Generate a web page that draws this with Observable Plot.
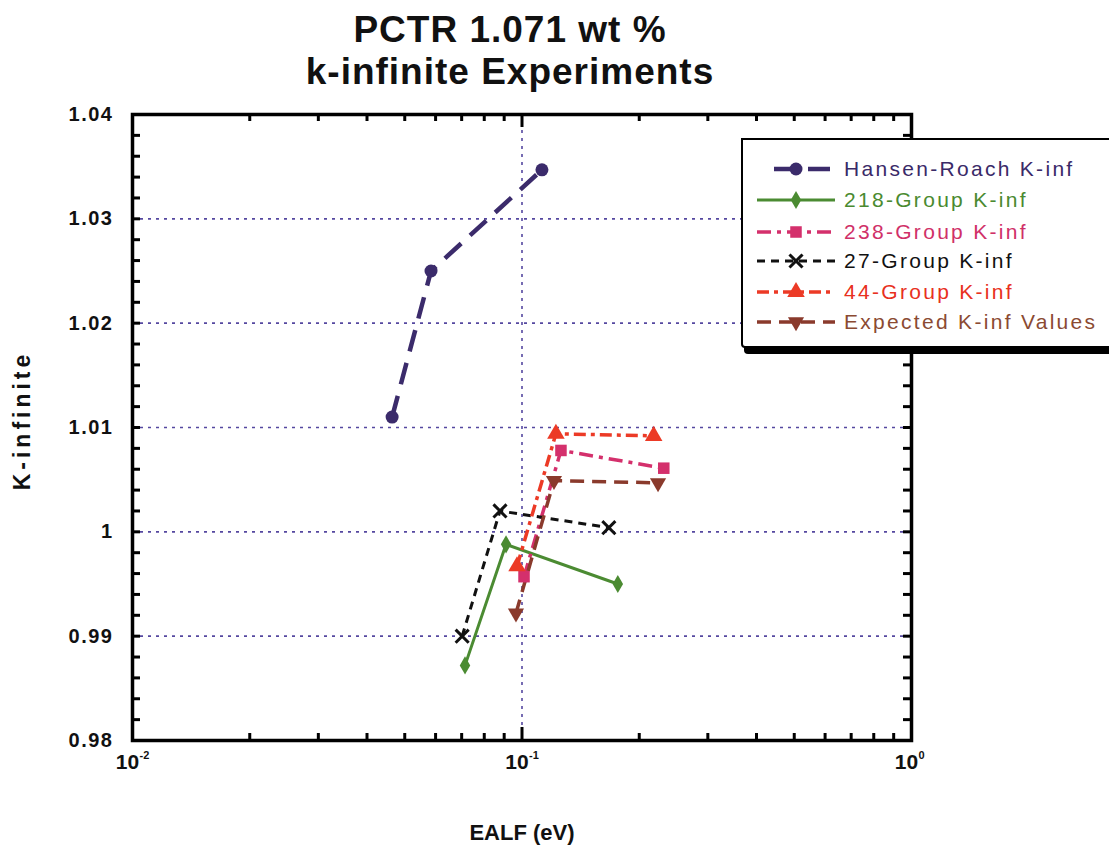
<!DOCTYPE html>
<html>
<head>
<meta charset="utf-8">
<script src="https://cdn.jsdelivr.net/npm/d3@7"></script>
<script src="https://cdn.jsdelivr.net/npm/@observablehq/plot@0.6"></script>
<style>
  body { margin: 0; background: #fff; overflow: hidden; }
  #wrap { position: relative; width: 1109px; height: 850px; overflow: hidden; font-family: "Liberation Sans", Arial, sans-serif; }
  #legend { position: absolute; left: 741px; top: 138px; width: 380px; height: 206px; border: 2px solid #000; background: #fff; box-shadow: 3px 6px 0 0 #000; border-radius: 0 0 0 4px; }
</style>
</head>
<body>
<div id="wrap"><div id="chart"></div><div id="legend"></div></div>
<script>
// ---- data ----
const seriesNames = ["Hansen-Roach K-inf", "218-Group K-inf", "238-Group K-inf", "27-Group K-inf", "44-Group K-inf", "Expected K-inf Values"];
const hansenX = [0.0464, 0.0584, 0.1125];
const hansenY = [1.0110, 1.0250, 1.0347];
const g218X = [0.0714, 0.0910, 0.1762];
const g218Y = [0.9872, 0.9988, 0.9950];
const g238X = [0.1012, 0.1259, 0.2312];
const g238Y = [0.9957, 1.0078, 1.0061];
const g27X = [0.0702, 0.0878, 0.1671];
const g27Y = [0.9900, 1.0020, 1.0004];
const g44X = [0.0971, 0.1222, 0.2178];
const g44Y = [0.9967, 1.0094, 1.0092];
const expX = [0.0965, 0.1208, 0.2235];
const expY = [0.9922, 1.0049, 1.0047];
const yTickLabels = [0.98, 0.99, 1.00, 1.01, 1.02, 1.03, 1.04];
const yGrid = [0.99, 1.00, 1.01, 1.02, 1.03];
const xTickLabels = [0.01, 0.1, 1];
const xTickExponents = ["-2", "-1", "0"];
const xGrid = [0.1];
const title1 = "PCTR 1.071 wt %";
const title2 = "k-infinite Experiments";
const xLabel = "EALF (eV)";
const yLabel = "K-infinite";

// ---- styles ----
const styles = [
  {color: "#3b2b6b", text: "#3a2a68", dash: "22,12", width: 4.5, symbol: "circle", r: 6.5, rotate: 0},
  {color: "#4b8b32", text: "#4a8a30", dash: null, width: 3, symbol: "diamond", r: 5.5, rotate: 0},
  {color: "#d4306c", text: "#d03068", dash: "14,6,4,6", width: 3.5, symbol: "square", r: 6.5, rotate: 0},
  {color: "#111111", text: "#111111", dash: "8,6", width: 3, symbol: "times", r: 6, rotate: 0},
  {color: "#ec3a26", text: "#e83020", dash: "12,5,4,5", width: 3.5, symbol: "triangle", r: 6.5, rotate: 0},
  {color: "#8a3a2c", text: "#8b4a32", dash: "14,8", width: 3.5, symbol: "triangle", r: 6, rotate: 180}
];
const xs = [hansenX, g218X, g238X, g27X, g44X, expX];
const ys = [hansenY, g218Y, g238Y, g27Y, g44Y, expY];
const rows = seriesNames.map((name, i) => xs[i].map((x, j) => ({series: name, x, y: ys[i][j]})));

const yMinor = d3.range(0, 31).map(i => +(0.98 + i * 0.002).toFixed(3));
const xMinor = [];
[0.01, 0.1].forEach(b => { for (let k = 2; k <= 9; k++) xMinor.push(b * k); });

const font = "Liberation Sans, Arial, sans-serif";
const W = 1109, H = 850, mL = 132, mR = 198, mT = 114, mB = 110;
const fw = W - mL - mR, fh = H - mT - mB;

const marks = [
  Plot.ruleY(yGrid, {stroke: "#5548a0", strokeDasharray: "3,5", strokeWidth: 1.6}),
  Plot.ruleX(xGrid, {stroke: "#5548a0", strokeDasharray: "3,5", strokeWidth: 1.6}),
  // inward ticks
  Plot.tickY(yMinor, {y: d => d, stroke: "black", strokeWidth: 3, insetRight: fw - 8}),
  Plot.tickY(yMinor, {y: d => d, stroke: "black", strokeWidth: 3, insetLeft: fw - 8}),
  Plot.tickX(xMinor, {x: d => d, stroke: "black", strokeWidth: 3, insetTop: fh - 7}),
  Plot.tickX(xMinor, {x: d => d, stroke: "black", strokeWidth: 3, insetBottom: fh - 7}),
  Plot.tickX(xGrid, {x: d => d, stroke: "black", strokeWidth: 3, insetTop: fh - 13}),
  Plot.tickX(xGrid, {x: d => d, stroke: "black", strokeWidth: 3, insetBottom: fh - 13}),
  Plot.frame({stroke: "black", strokeWidth: 3.5}),
];
rows.forEach((data, i) => {
  const s = styles[i];
  marks.push(Plot.line(data, {x: "x", y: "y", stroke: s.color, strokeWidth: s.width, strokeDasharray: s.dash, strokeLinecap: "butt"}));
});
rows.forEach((data, i) => {
  const s = styles[i];
  if (s.symbol === "times") {
    marks.push(Plot.dot(data, {x: "x", y: "y", symbol: "times", r: s.r, stroke: s.color, strokeWidth: 3}));
  } else {
    marks.push(Plot.dot(data, {x: "x", y: "y", symbol: s.symbol, r: s.r, fill: s.color, stroke: "none", rotate: s.rotate}));
  }
});
marks.push(
  Plot.text(yTickLabels, {ariaLabel: () => "ytick-labels", y: d => d, frameAnchor: "left", dx: -19, textAnchor: "end", lineAnchor: "middle", text: d => d === 1 ? "1" : d.toFixed(2), fontSize: 20, fontWeight: "bold", fontFamily: font, fill: "#111"}),
  Plot.text(xTickLabels, {x: d => d, frameAnchor: "bottom", dy: 22, dx: -5, textAnchor: "middle", lineAnchor: "middle", text: () => "10", fontSize: 21, fontWeight: "bold", fontFamily: font, fill: "#111"}),
  Plot.text(xTickLabels, {x: d => d, frameAnchor: "bottom", dy: 15, dx: 7, textAnchor: "start", lineAnchor: "middle", text: (d, i) => xTickExponents[i], fontSize: 11, fontWeight: "bold", fontFamily: font, fill: "#111"}),
  Plot.text([xLabel], {frameAnchor: "bottom", dy: 92, textAnchor: "middle", lineAnchor: "middle", text: d => d, fontSize: 22, fontWeight: "bold", fontFamily: font, fill: "#111"}),
  Plot.text([yLabel], {ariaLabel: () => "ylabel", frameAnchor: "left", dx: -110, dy: -7, rotate: -90, textAnchor: "middle", lineAnchor: "middle", text: d => d, fontSize: 23, fontWeight: "bold", fontFamily: font, fill: "#111"}),
  Plot.text([title1], {ariaLabel: () => "title", frameAnchor: "top", dy: -84, dx: -12, textAnchor: "middle", lineAnchor: "middle", text: d => d, fontSize: 37, fontWeight: "bold", fontFamily: font, fill: "#111"}),
  Plot.text([title2], {ariaLabel: () => "title", frameAnchor: "top", dy: -42, dx: -12, textAnchor: "middle", lineAnchor: "middle", text: d => d, fontSize: 37, fontWeight: "bold", fontFamily: font, fill: "#111"})
);

const chart = Plot.plot({
  width: W, height: H,
  marginLeft: mL, marginRight: mR, marginTop: mT, marginBottom: mB,
  x: {type: "log", domain: [0.01, 1], axis: null},
  y: {domain: [0.98, 1.04], axis: null},
  style: {background: "#fff", fontFamily: font},
  marks
});
const sel = d3.select(chart);
const spacing = {"ytick-labels": 1.5, "ylabel": 4, "title": 1};
sel.selectAll("text").each(function () {
  const lab = this.getAttribute("aria-label") || (this.parentNode && this.parentNode.getAttribute && this.parentNode.getAttribute("aria-label"));
  if (lab && spacing[lab] != null) this.setAttribute("letter-spacing", spacing[lab]);
});
sel.selectAll("g").each(function () {
  const lab = this.getAttribute("aria-label");
  if (lab && spacing[lab] != null) this.setAttribute("letter-spacing", spacing[lab]);
});
document.getElementById("chart").appendChild(chart);

// ---- legend ----
const lg = d3.select("#legend").append("svg").attr("width", 380).attr("height", 206)
  .style("position", "absolute").style("left", "0").style("top", "0");
const rowY = [29, 60, 92, 121, 152, 182];
seriesNames.forEach((name, i) => {
  const s = styles[i];
  const g = lg.append("g").attr("transform", `translate(0,${rowY[i]})`);
  g.append("line").attr("x1", i === 0 ? 31 : 14).attr("x2", 92).attr("y1", 0).attr("y2", 0)
    .attr("stroke", s.color).attr("stroke-width", s.width)
    .attr("stroke-dasharray", s.dash);
  const sym = {circle: d3.symbolCircle, diamond: d3.symbolDiamond, square: d3.symbolSquare, times: d3.symbolTimes, triangle: d3.symbolTriangle}[s.symbol];
  const path = d3.symbol(sym, Math.PI * s.r * s.r)();
  const p = g.append("path").attr("d", path).attr("transform", `translate(53,0) rotate(${s.rotate})`);
  if (s.symbol === "times") p.attr("fill", "none").attr("stroke", s.color).attr("stroke-width", 3);
  else p.attr("fill", s.color);
  g.append("text").attr("x", 101).attr("y", 0).attr("dy", "0.35em").text(name)
    .attr("fill", s.text).attr("font-size", 21).attr("letter-spacing", 2.3)
    .attr("font-family", font);
});
</script>
</body>
</html>
